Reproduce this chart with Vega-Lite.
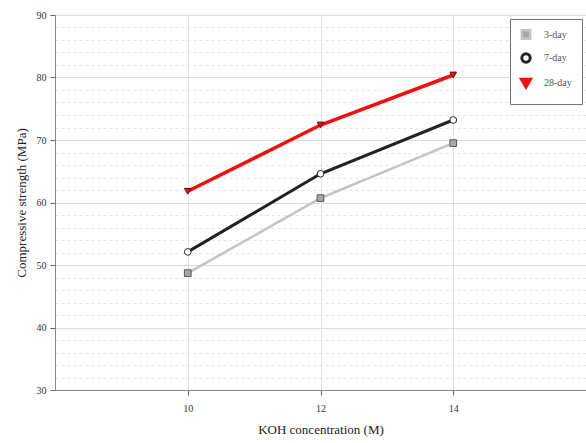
{
  "$schema": "https://vega.github.io/schema/vega-lite/v6.json",
  "width": 531,
  "height": 375,
  "autosize": {"type": "none"},
  "padding": {"left": 55, "top": 15, "right": 0, "bottom": 53},
  "background": "white",
  "config": {
    "font": "Liberation Serif",
    "view": {"stroke": "#888", "strokeWidth": 1},
    "axis": {"labelFont": "Liberation Serif", "titleFont": "Liberation Serif", "labelColor": "#333", "titleColor": "#222", "titleFontWeight": "normal", "labelFontSize": 10, "titleFontSize": 13, "domainColor": "#888", "tickColor": "#666", "gridColor": "#dcdcdc"},
    "legend": {"labelFont": "Liberation Serif", "labelFontSize": 10, "labelColor": "#555"}
  },
  "data": {
    "values": [
      {"koh": 10, "age": "3-day", "strength": 48.7},
      {"koh": 12, "age": "3-day", "strength": 60.7},
      {"koh": 14, "age": "3-day", "strength": 69.5},
      {"koh": 10, "age": "7-day", "strength": 52.1},
      {"koh": 12, "age": "7-day", "strength": 64.6},
      {"koh": 14, "age": "7-day", "strength": 73.2},
      {"koh": 10, "age": "28-day", "strength": 61.8},
      {"koh": 12, "age": "28-day", "strength": 72.4},
      {"koh": 14, "age": "28-day", "strength": 80.4}
    ]
  },
  "encoding": {
    "x": {
      "field": "koh", "type": "quantitative",
      "scale": {"domain": [8, 16], "nice": false},
      "axis": {"values": [10, 12, 14], "title": "KOH concentration (M)", "titleFontSize": 13, "titlePadding": 10, "labelPadding": 8, "tickSize": 5, "gridColor": "#e0e0e0"}
    },
    "y": {
      "field": "strength", "type": "quantitative",
      "scale": {"domain": [30, 90], "nice": false},
      "axis": {
        "values": [30,32,34,36,38,40,42,44,46,48,50,52,54,56,58,60,62,64,66,68,70,72,74,76,78,80,82,84,86,88,90],
        "labelExpr": "datum.value % 10 === 0 ? datum.label : ''",
        "gridDash": {"condition": {"test": "datum.value % 10 === 0", "value": []}, "value": [3, 3]},
        "gridColor": {"condition": {"test": "datum.value % 10 === 0", "value": "#dcdcdc"}, "value": "#e4e4e4"},
        "tickSize": {"condition": {"test": "datum.value % 10 === 0", "value": 5}, "value": 0},
        "title": "Compressive strength (MPa)", "titlePadding": 8, "labelPadding": 4
      }
    }
  },
  "layer": [
    {
      "mark": {"type": "line", "strokeCap": "round"},
      "encoding": {
        "color": {"field": "age", "type": "nominal", "sort": ["3-day", "7-day", "28-day"],
          "scale": {"domain": ["3-day", "7-day", "28-day"], "range": ["#c4c4c4", "#222222", "#ee1111"]},
          "legend": {"title": null, "orient": "top-right", "offset": 4, "strokeColor": "#777", "padding": 10, "fillColor": "white", "symbolStrokeWidth": 2, "symbolSize": 70, "rowPadding": 3, "labelOffset": 12}},
        "strokeWidth": {"field": "age", "type": "nominal", "scale": {"domain": ["3-day", "7-day", "28-day"], "range": [2.5, 3.5, 3.5]}, "legend": null}
      }
    },
    {
      "mark": {"type": "point", "filled": true, "size": 45, "strokeWidth": 1, "opacity": 1},
      "encoding": {
        "shape": {"field": "age", "type": "nominal", "scale": {"domain": ["3-day", "7-day", "28-day"], "range": ["square", "circle", "triangle-down"]}, "legend": null},
        "fill": {"field": "age", "type": "nominal", "scale": {"domain": ["3-day", "7-day", "28-day"], "range": ["#a8a8a8", "#ffffff", "#dd1111"]}, "legend": null},
        "stroke": {"field": "age", "type": "nominal", "scale": {"domain": ["3-day", "7-day", "28-day"], "range": ["#555555", "#222222", "#661111"]}, "legend": null}
      }
    }
  ]
}
